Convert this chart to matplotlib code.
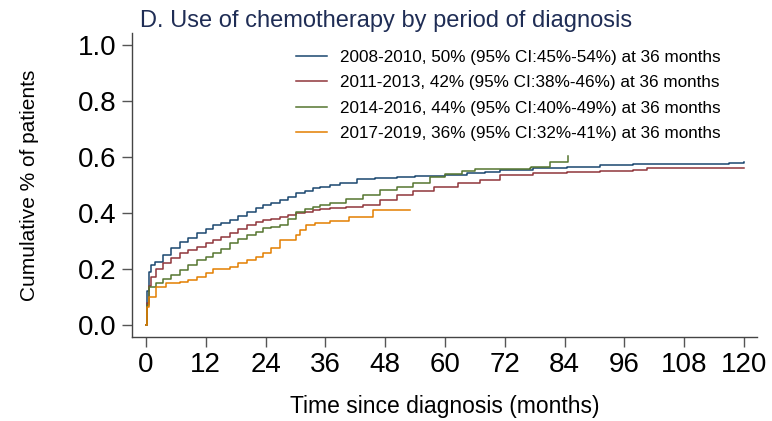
import matplotlib
matplotlib.use('Agg')
import matplotlib.pyplot as plt

# Cumulative incidence of chemotherapy use
t_0810 = [0, 0.3, 0.6, 1.0, 1.8, 3.5, 5, 6.8, 8.5, 10.2, 12, 13.5, 15, 16.9, 18.5, 20.2, 22,
          23.5, 25, 26.9, 28.5, 30.2, 32, 33.6, 35, 36.9, 39, 42.3, 46, 50.3, 54, 57, 60,
          64.4, 68, 71, 77.7, 84.4, 91, 97.8, 114, 117, 120]
v_0810 = [0, 0.12, 0.19, 0.215, 0.226, 0.25, 0.275, 0.298, 0.312, 0.327, 0.342, 0.357, 0.366,
          0.375, 0.39, 0.405, 0.418, 0.429, 0.437, 0.446, 0.458, 0.47, 0.48, 0.488, 0.494,
          0.5, 0.508, 0.52, 0.525, 0.53, 0.531, 0.533, 0.536, 0.542, 0.548, 0.553, 0.56,
          0.565, 0.57, 0.575, 0.576, 0.58, 0.582]

t_1113 = [0, 0.3, 0.7, 1.1, 2.1, 3.5, 5, 6.8, 8.5, 10.2, 12, 13.5, 15, 16.9, 18.5, 20.2, 22,
          23.5, 25, 26.9, 28.5, 30.2, 32, 33.6, 35, 36.9, 40.2, 43.6, 46.9, 50.3, 53.6, 57.7,
          62.7, 67, 71, 77.7, 84.4, 91, 97.8, 100.5, 120]
v_1113 = [0, 0.08, 0.14, 0.173, 0.2, 0.22, 0.238, 0.256, 0.268, 0.28, 0.292, 0.304, 0.315,
          0.327, 0.342, 0.357, 0.368, 0.375, 0.38, 0.385, 0.392, 0.399, 0.405, 0.41, 0.413,
          0.417, 0.423, 0.429, 0.446, 0.464, 0.478, 0.494, 0.508, 0.518, 0.536, 0.542, 0.545,
          0.55, 0.553, 0.56, 0.56]

t_1416 = [0, 0.3, 0.7, 2.1, 3.5, 5, 6.8, 8.5, 10.2, 12, 13.5, 15, 16.9, 18.5, 20.2, 22, 23.5,
          25, 26.9, 28.5, 30.2, 32, 33.6, 35, 36.9, 40.2, 43.6, 46.9, 50.3, 53.6, 57, 60,
          63.4, 66, 77, 77.3, 81.1, 84.6, 84.7]
v_1416 = [0, 0.07, 0.137, 0.15, 0.164, 0.18, 0.196, 0.214, 0.232, 0.244, 0.256, 0.272, 0.292,
          0.306, 0.32, 0.333, 0.345, 0.35, 0.357, 0.38, 0.405, 0.414, 0.423, 0.428, 0.435,
          0.449, 0.464, 0.482, 0.494, 0.508, 0.527, 0.54, 0.551, 0.556, 0.56, 0.565, 0.583,
          0.604, 0.604]

t_1719 = [0, 0.3, 0.7, 2.1, 4.1, 6.8, 8.5, 10.2, 12, 13.5, 16.9, 18.5, 20.2, 22, 23.5, 25,
          26.9, 30.2, 31, 32.2, 34, 36.9, 40.8, 45.5, 52.9]
v_1719 = [0, 0.065, 0.1, 0.137, 0.149, 0.155, 0.162, 0.173, 0.185, 0.2, 0.208, 0.22, 0.232,
          0.244, 0.256, 0.275, 0.304, 0.321, 0.34, 0.357, 0.364, 0.371, 0.387, 0.41, 0.41]

labels = ['2008-2010, 50% (95% CI:45%-54%) at 36 months',
          '2011-2013, 42% (95% CI:38%-46%) at 36 months',
          '2014-2016, 44% (95% CI:40%-49%) at 36 months',
          '2017-2019, 36% (95% CI:32%-41%) at 36 months']
colors = ['#1a476f', '#90353b', '#55752f', '#e37e00']

x_ticks = list(range(0, 121, 12))
y_ticks = [0.0, 0.2, 0.4, 0.6, 0.8, 1.0]

plt.rcParams['font.family'] = ['Liberation Sans', 'DejaVu Sans']

fig = plt.figure(figsize=(7.72, 4.21), dpi=100)
ax = fig.add_axes([0.171, 0.1995, 0.8096, 0.7221])

series = [(t_0810, v_0810), (t_1113, v_1113), (t_1416, v_1416), (t_1719, v_1719)]
for (t, v), lab, col in zip(series, labels, colors):
    ax.plot(t, v, drawstyle='steps-post', color=col, lw=1.1, label=lab)

ax.set_xlim(-2.8, 122.6)
ax.set_ylim(-0.043, 1.043)
ax.set_xticks(x_ticks)
ax.set_yticks(y_ticks)
ax.set_yticklabels([f'{y:.1f}' for y in y_ticks])
ax.tick_params(axis='both', labelsize=20, length=7, width=1, color='#555555',
               labelcolor='black')
ax.tick_params(axis='x', pad=4)
ax.tick_params(axis='y', pad=4)
for s in ['top', 'right']:
    ax.spines[s].set_visible(False)
for s in ['left', 'bottom']:
    ax.spines[s].set_color('#444444')
    ax.spines[s].set_linewidth(1.0)

ax.set_xlabel('Time since diagnosis (months)', fontsize=16.5, labelpad=12)
ax.set_ylabel('Cumulative % of patients', fontsize=15, labelpad=28)

fig.text(140 / 772, 1 - 27 / 421, 'D. Use of chemotherapy by period of diagnosis',
         fontsize=17, color='#1f2d55', ha='left', va='baseline')

ax.legend(loc='upper left', bbox_to_anchor=(296 / 772, 1 - 50 / 421),
          bbox_transform=fig.transFigure, frameon=False, fontsize=12.3,
          handlelength=1.8, handletextpad=0.75, labelspacing=0.6, borderpad=0,
          borderaxespad=0)

fig.savefig('out.png', dpi=100)
